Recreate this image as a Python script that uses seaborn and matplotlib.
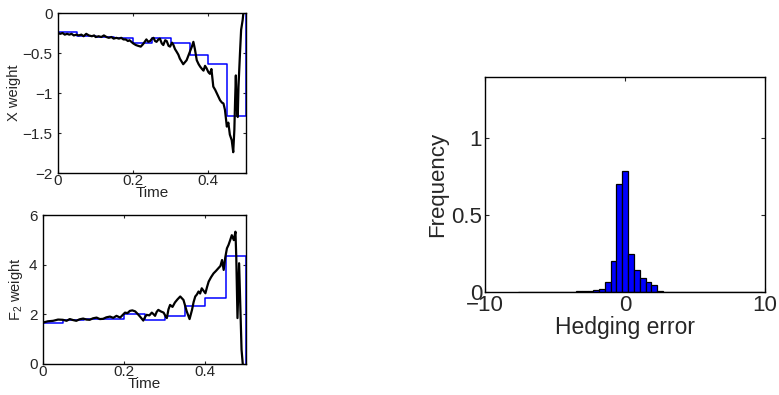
import numpy as np
import seaborn as sns
import matplotlib.pyplot as plt
from matplotlib.ticker import FuncFormatter

# step (rebalanced) hedge weights, one value per 0.05 interval, last point = end
step_t = [0, 0.05, 0.10, 0.15, 0.20, 0.25, 0.30, 0.35, 0.40, 0.45, 0.50]
x_step = [-0.24, -0.29, -0.30, -0.31, -0.37, -0.31, -0.38, -0.52, -0.64, -1.29, 0.0]
f2_step = [1.67, 1.78, 1.80, 1.83, 2.02, 1.78, 1.94, 2.34, 2.65, 4.35, 0.0]

# continuous hedge paths
x_t = [0, 0.006, 0.012, 0.018, 0.024, 0.03, 0.036, 0.042, 0.049, 0.055, 0.062, 0.068,
       0.075, 0.082, 0.09, 0.096, 0.10, 0.108, 0.115, 0.122, 0.129, 0.135, 0.142,
       0.148, 0.155, 0.162, 0.168, 0.174, 0.18, 0.186, 0.19, 0.195, 0.20, 0.207,
       0.213, 0.22, 0.226, 0.235, 0.24, 0.245, 0.25, 0.254, 0.258, 0.262, 0.267,
       0.271, 0.276, 0.280, 0.285, 0.289, 0.294, 0.298, 0.303, 0.307, 0.311, 0.315,
       0.32, 0.324, 0.333, 0.342, 0.351, 0.356, 0.36, 0.364, 0.369, 0.374, 0.378,
       0.383, 0.387, 0.391, 0.395, 0.40, 0.404, 0.408, 0.413, 0.418, 0.422, 0.427,
       0.431, 0.436, 0.44, 0.444, 0.449, 0.453, 0.457, 0.462, 0.466, 0.469, 0.471,
       0.473, 0.475, 0.478, 0.48, 0.484, 0.487, 0.491, 0.493]
x_path = [-0.25, -0.26, -0.25, -0.27, -0.26, -0.27, -0.26, -0.28, -0.27, -0.28, -0.27,
          -0.29, -0.26, -0.28, -0.29, -0.28, -0.30, -0.29, -0.30, -0.28, -0.30, -0.31,
          -0.30, -0.32, -0.31, -0.32, -0.31, -0.33, -0.33, -0.35, -0.34, -0.36, -0.38,
          -0.40, -0.41, -0.42, -0.39, -0.33, -0.36, -0.35, -0.32, -0.31, -0.35, -0.36,
          -0.33, -0.32, -0.38, -0.40, -0.34, -0.35, -0.41, -0.42, -0.37, -0.40, -0.45,
          -0.48, -0.52, -0.57, -0.64, -0.59, -0.48, -0.42, -0.36, -0.45, -0.59, -0.64,
          -0.67, -0.70, -0.72, -0.66, -0.69, -0.74, -0.76, -0.70, -0.92, -0.96, -1.00,
          -1.05, -1.09, -1.12, -1.13, -1.21, -1.42, -1.37, -1.52, -1.59, -1.74, -1.46,
          -1.09, -0.78, -1.17, -1.30, -0.92, -0.50, -0.21, -0.09, 0.0]

f2_t = [0, 0.012, 0.025, 0.037, 0.049, 0.058, 0.066, 0.074, 0.082, 0.09, 0.099, 0.107,
        0.115, 0.123, 0.132, 0.14, 0.148, 0.156, 0.165, 0.173, 0.181, 0.19, 0.196,
        0.202, 0.208, 0.214, 0.22, 0.227, 0.233, 0.239, 0.243, 0.247, 0.251, 0.255,
        0.262, 0.268, 0.272, 0.276, 0.28, 0.284, 0.29, 0.297, 0.301, 0.305, 0.309,
        0.313, 0.319, 0.325, 0.331, 0.338, 0.346, 0.354, 0.361, 0.367, 0.371, 0.375,
        0.379, 0.383, 0.387, 0.391, 0.395, 0.40, 0.404, 0.408, 0.414, 0.42, 0.426,
        0.432, 0.437, 0.441, 0.445, 0.449, 0.453, 0.457, 0.461, 0.465, 0.47, 0.474,
        0.476, 0.479, 0.483, 0.486, 0.489, 0.492]
f2_path = [1.67, 1.72, 1.74, 1.79, 1.78, 1.74, 1.81, 1.77, 1.74, 1.80, 1.83, 1.79,
           1.78, 1.84, 1.87, 1.81, 1.82, 1.88, 1.91, 1.86, 1.94, 1.87, 1.97, 2.07,
           2.05, 2.14, 2.16, 2.12, 2.02, 1.91, 1.83, 1.75, 1.88, 1.98, 1.96, 2.07,
           2.01, 1.94, 2.10, 2.18, 2.12, 2.07, 1.95, 1.85, 2.20, 2.38, 2.30, 2.48,
           2.60, 2.72, 2.58, 2.12, 1.81, 2.18, 2.50, 2.72, 2.80, 2.92, 2.84, 3.05,
           2.96, 2.85, 3.10, 3.32, 3.50, 3.65, 3.75, 3.86, 3.95, 4.19, 3.79, 4.30,
           4.66, 4.80, 4.99, 5.19, 4.99, 5.33, 4.32, 1.85, 4.06, 2.32, 0.58, 0.0]

# histogram of hedging errors
bin_centers = [-7.45, -7.03, -6.62, -6.20, -5.79, -5.37, -4.96, -4.54, -4.13, -3.71,
               -3.30, -2.88, -2.47, -2.06, -1.64, -1.23, -0.81, -0.40, 0.02, 0.43,
               0.85, 1.26, 1.68, 2.10, 2.51, 2.92, 3.34, 3.75, 4.17, 4.58, 5.00,
               5.41, 5.83, 6.24, 6.66, 7.07, 7.49, 7.90, 8.32, 8.73, 9.15, 9.56]
freq = [0.002, 0.001, 0.002, 0.001, 0.002, 0.002, 0.003, 0.002, 0.003, 0.003,
        0.004, 0.005, 0.008, 0.012, 0.02, 0.065, 0.20, 0.705, 0.79, 0.246,
        0.14, 0.09, 0.065, 0.044, 0.004, 0.003, 0.002, 0.002, 0.002, 0.001, 0.002,
        0.001, 0.002, 0.002, 0.001, 0.002, 0.001, 0.002, 0.001, 0.002, 0.001, 0.002]

sns.set_style("ticks", {"xtick.direction": "in", "ytick.direction": "in"})
plt.rcParams["font.family"] = ["Liberation Sans", "DejaVu Sans"]
plt.rcParams["mathtext.fontset"] = "custom"
plt.rcParams["mathtext.rm"] = "Liberation Sans"
plt.rcParams["mathtext.it"] = "Liberation Sans"

fmt = FuncFormatter(lambda v, _: f"{v:g}".replace("-", "\u2212"))

fig = plt.figure(figsize=(7.79, 3.95), dpi=100)
ax1 = fig.add_axes([0.0745, 0.562, 0.2413, 0.405])
ax2 = fig.add_axes([0.0552, 0.0785, 0.2606, 0.377])
ax3 = fig.add_axes([0.6226, 0.2608, 0.3594, 0.5443])

for ax, t, path, st, sv in [(ax1, x_t, x_path, step_t, x_step),
                            (ax2, f2_t, f2_path, step_t, f2_step)]:
    sns.lineplot(x=st, y=sv, color="#0000ff", lw=1.1, drawstyle="steps-post",
                 estimator=None, sort=False, ax=ax)
    sns.lineplot(x=t, y=path, color="black", lw=1.6, estimator=None, sort=False, ax=ax)
    ax.set_xlim(0, 0.5)
    ax.set_xticks([0, 0.2, 0.4])
    ax.set_xlabel("Time", fontsize=11, labelpad=-2)
    ax.tick_params(labelsize=11, length=2.5, width=0.8, top=True, right=True)
    ax.tick_params(axis="x", pad=1)
    ax.tick_params(axis="y", pad=4)

ax1.set_ylim(-2, 0)
ax1.set_yticks([0, -0.5, -1, -1.5, -2])
ax1.set_ylabel("X weight", fontsize=10.5, labelpad=1)
ax2.set_ylim(0, 6)
ax2.set_yticks([0, 2, 4, 6])
ax2.set_ylabel(r"F$_2$ weight", fontsize=10.5, labelpad=3)

w = 0.415
edges = [c - w / 2 for c in bin_centers] + [bin_centers[-1] + w / 2]
sns.histplot(x=bin_centers, weights=freq, bins=edges, color="#0000ff", alpha=1,
             edgecolor="black", linewidth=0.9, ax=ax3)
ax3.set_xlim(-10, 10)
ax3.set_ylim(0, 1.4)
ax3.set_xticks([-10, 0, 10])
ax3.set_yticks([0, 0.5, 1])
ax3.set_xlabel("Hedging error", fontsize=16.5, labelpad=0)
ax3.set_ylabel("Frequency", fontsize=16, labelpad=2)
ax3.tick_params(labelsize=16, length=3, width=0.8, top=True, right=True, pad=2)

for ax in (ax1, ax2, ax3):
    ax.xaxis.set_major_formatter(fmt)
    ax.yaxis.set_major_formatter(fmt)
    for s in ax.spines.values():
        s.set_linewidth(1.0)
        s.set_color("black")

fig.savefig("out.png", dpi=100, facecolor="white")
